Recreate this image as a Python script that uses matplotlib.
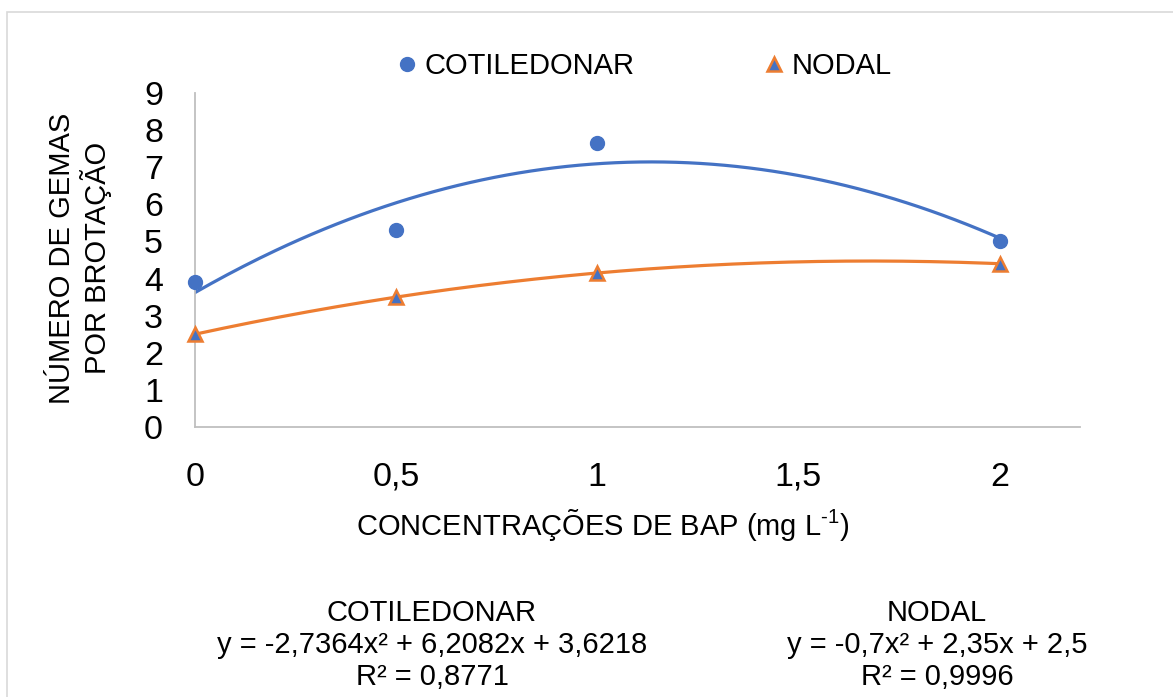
import numpy as np
import matplotlib.pyplot as plt
from matplotlib.lines import Line2D
from matplotlib.patches import Rectangle

plt.rcParams['font.family'] = ['Liberation Sans', 'DejaVu Sans']
plt.rcParams['mathtext.fontset'] = 'custom'
plt.rcParams['mathtext.rm'] = 'Liberation Sans'
plt.rcParams['mathtext.default'] = 'regular'

# dados
concentracoes = [0, 0.5, 1, 2]
cotiledonar = [3.9, 5.3, 7.65, 5.0]
nodal = [2.5, 3.5, 4.15, 4.4]

# coeficientes das linhas de tendencia (grau 2)
coef_cot = [-2.7364, 6.2082, 3.6218]
coef_nod = [-0.7, 2.35, 2.5]

x_ticks = [0, 0.5, 1, 1.5, 2]
x_ticklabels = ['0', '0,5', '1', '1,5', '2']
y_ticks = list(range(0, 10))

azul = '#4472C4'
laranja = '#ED7D31'
cinza = '#BFBFBF'

fig = plt.figure(figsize=(11.73, 6.97), dpi=100)
ax = fig.add_axes([195 / 1173, 1 - 427 / 697, 885 / 1173, 334 / 697])

# moldura do grafico
fig.patches.append(Rectangle((7 / 1173, -0.2), 2, 1.2 - 12 / 697, transform=fig.transFigure,
                             fill=False, edgecolor='#D9D9D9', lw=1.2))

xs = np.linspace(0, 2, 200)
p_cot = np.poly1d(coef_cot)
p_nod = np.poly1d(coef_nod)
ax.plot(xs, p_cot(xs), color=azul, lw=2.3, zorder=2)
ax.plot(xs, p_nod(xs), color=laranja, lw=2.3, zorder=2)

ax.plot(concentracoes, cotiledonar, 'o', color=azul, ms=10, zorder=3, clip_on=False)
ax.plot(concentracoes, nodal, '^', color=azul, mec=laranja, mew=1.8, ms=10, zorder=3, clip_on=False)

ax.set_xlim(0, 2.2)
ax.set_ylim(0, 9)
ax.set_xticks(x_ticks)
ax.set_xticklabels(x_ticklabels)
ax.set_yticks(y_ticks)
ax.tick_params(axis='both', length=0, labelsize=24.5)
ax.tick_params(axis='x', pad=25)
ax.tick_params(axis='y', pad=23)

for lado in ['top', 'right']:
    ax.spines[lado].set_visible(False)
for lado in ['left', 'bottom']:
    ax.spines[lado].set_color(cinza)
    ax.spines[lado].set_linewidth(1.3)

# rotulos dos eixos
fig.text(80 / 1173, 1 - 258 / 697, 'NÚMERO DE GEMAS\nPOR BROTAÇÃO', rotation=90,
         ha='center', va='center', multialignment='center', fontsize=21, linespacing=1.15)
fig.text(603 / 1173, 1 - 525 / 697, r'CONCENTRAÇÕES DE BAP (mg L$^{\text{-1}}$)',
         ha='center', va='center', fontsize=21)

# legenda
handles = [Line2D([], [], marker='o', ls='none', color=azul, ms=10),
           Line2D([], [], marker='^', ls='none', color=azul, mec=laranja, mew=1.8, ms=10)]
fig.legend(handles, ['COTILEDONAR', 'NODAL'], ncol=2, loc='center',
           bbox_to_anchor=(645 / 1173, 1 - 66 / 697), frameon=False, fontsize=21,
           handlelength=0.6, handletextpad=0.3, columnspacing=4.5)

# equacoes das tendencias
fig.text(432 / 1173, 1 - 645 / 697,
         'COTILEDONAR\ny = -2,7364x² + 6,2082x + 3,6218\nR² = 0,8771',
         ha='center', va='center', multialignment='center', fontsize=21, linespacing=1.2)
fig.text(937 / 1173, 1 - 645 / 697,
         'NODAL\ny = -0,7x² + 2,35x + 2,5\nR² = 0,9996',
         ha='center', va='center', multialignment='center', fontsize=21, linespacing=1.2)

plt.savefig('out.png', dpi=100)
